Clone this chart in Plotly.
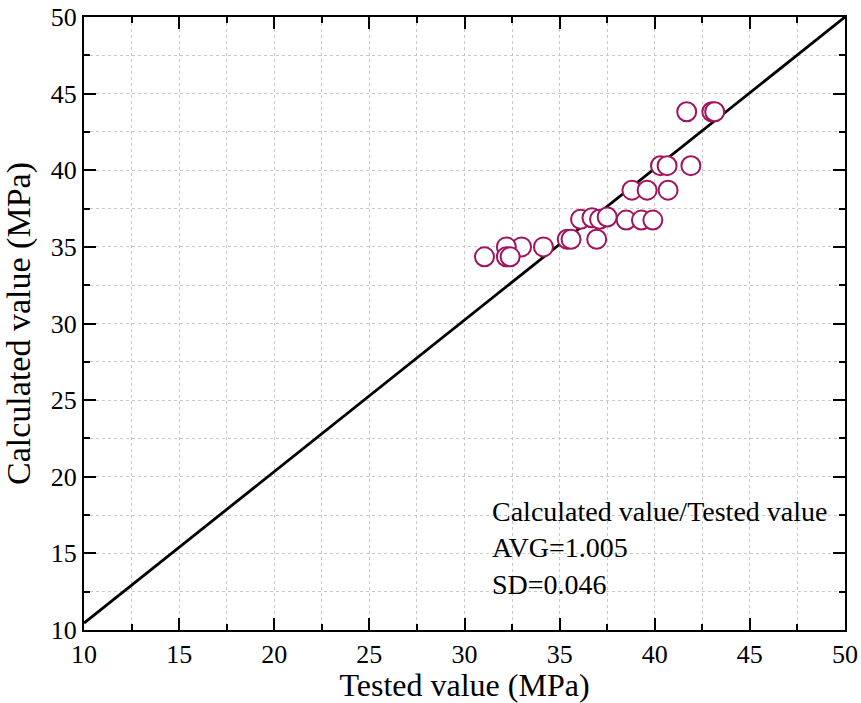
import plotly.graph_objects as go

tested = [41.68, 43.0, 43.15, 40.3, 40.65, 41.9, 38.8, 39.6, 40.7,
          36.1, 36.7, 37.1, 37.5, 38.5, 39.3, 39.9, 36.95, 35.4, 35.6,
          34.15, 33.0, 32.2, 31.05, 32.2, 32.4]
calculated = [43.82, 43.82, 43.82, 40.3, 40.3, 40.3, 38.7, 38.7, 38.7,
              36.8, 36.9, 36.8, 36.95, 36.75, 36.75, 36.75, 35.5, 35.5, 35.5,
              35.0, 35.0, 35.0, 34.35, 34.35, 34.35]
ref_x = [10, 50]
ref_y = [10.45, 50]
tick_vals = [10, 15, 20, 25, 30, 35, 40, 45, 50]
note_lines = ["Calculated value/Tested value", "AVG=1.005", "SD=0.046"]

FONT = "Liberation Serif"
MARK = "#A0145E"

fig = go.Figure()
fig.add_trace(go.Scatter(x=ref_x, y=ref_y, mode="lines",
                         line=dict(color="black", width=2.8),
                         showlegend=False, hoverinfo="skip"))
fig.add_trace(go.Scatter(x=tested, y=calculated, mode="markers",
                         marker=dict(symbol="circle", size=19, color="white",
                                     line=dict(color=MARK, width=2)),
                         showlegend=False))

axis_common = dict(
    range=[10, 50], tickvals=tick_vals, ticktext=[str(v) for v in tick_vals],
    showline=True, linecolor="black", linewidth=2, mirror="ticks",
    ticks="inside", ticklen=12, tickwidth=2, tickcolor="black",
    showgrid=True, gridcolor="#c8c8c8", gridwidth=1, griddash="dot",
    zeroline=False, automargin=False, ticklabeloverflow="allow",
    tickfont=dict(family=FONT, size=26, color="black"),
    minor=dict(dtick=2.5, tick0=10, ticks="inside", ticklen=6, tickwidth=2,
               tickcolor="black", showgrid=True, gridcolor="#c8c8c8",
               gridwidth=1, griddash="dot"),
)

fig.update_layout(
    width=861, height=703,
    margin=dict(l=84, r=16, t=17, b=73),
    plot_bgcolor="white", paper_bgcolor="white",
    xaxis=dict(**axis_common,
               title=dict(text="Tested value (MPa)", standoff=14,
                          font=dict(family=FONT, size=32, color="black"))),
    yaxis=dict(**axis_common,
               title=dict(text="Calculated value (MPa)", standoff=20,
                          font=dict(family=FONT, size=34, color="black"))),
    annotations=[dict(x=0.5335, y=0.1338, xref="paper", yref="paper",
                      xanchor="left", yanchor="middle", align="left",
                      showarrow=False, text="<br>".join(note_lines),
                      font=dict(family=FONT, size=28, color="black"))],
)

# remove the browser's default 8px body margin so the figure fills the window
fig.write_html("out.html", config={"displayModeBar": False},
               post_script="document.body.style.margin='0px';")
